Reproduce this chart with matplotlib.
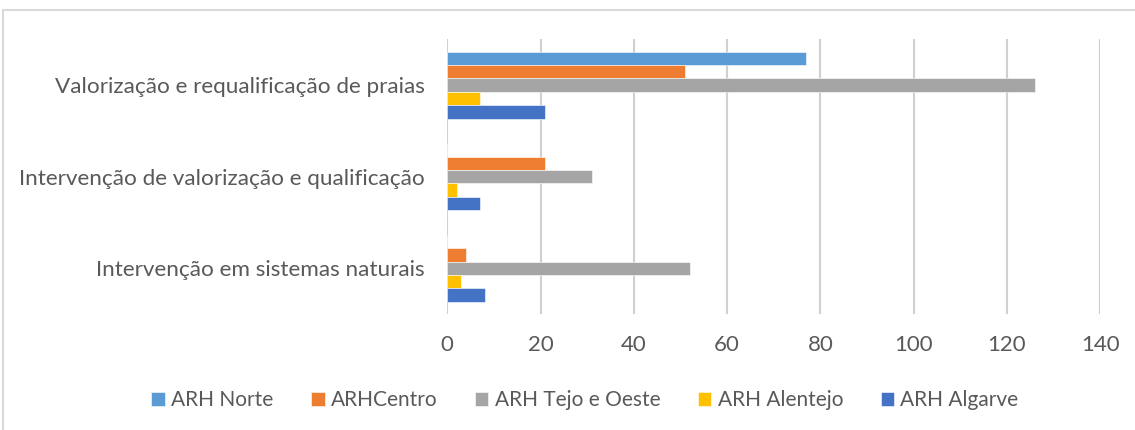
import numpy as np
import matplotlib
matplotlib.use('Agg')
import matplotlib.pyplot as plt
from matplotlib.patches import Rectangle

categories = ['Valorização e requalificação de praias',
              'Intervenção de valorização e qualificação',
              'Intervenção em sistemas naturais']
series = ['ARH Norte', 'ARHCentro', 'ARH Tejo e Oeste', 'ARH Alentejo', 'ARH Algarve']
norte = [77, 0, 0]
centro = [51, 21, 4]
tejo = [126, 31, 52]
alentejo = [7, 2, 3]
algarve = [21, 7, 8]
colors = ['#5B9BD5', '#ED7D31', '#A5A5A5', '#FFC000', '#4472C4']


def main():
    plt.rcParams['font.family'] = ['Lato', 'DejaVu Sans']
    text_color = '#595959'

    fig = plt.figure(figsize=(11.35, 4.3), dpi=100)
    ax = fig.add_axes([447.3 / 1135, 1 - 314 / 430, 653 / 1135, 274.7 / 430])

    values = [norte, centro, tejo, alentejo, algarve]
    y = np.arange(len(categories))
    group = 0.73
    h = group / len(series)
    for i, (name, vals) in enumerate(zip(series, values)):
        offs = -group / 2 + h * (i + 0.5)
        ax.barh(y + offs, vals, height=h, color=colors[i], label=name,
                edgecolor='white', linewidth=0.4, zorder=3)

    ax.set_xlim(0, 140)
    ax.set_ylim(2.5, -0.5)
    ax.set_xticks(np.arange(0, 141, 20))
    ax.set_yticks(y)
    ax.set_yticklabels(categories)
    ax.tick_params(axis='both', length=0, labelcolor=text_color)
    ax.tick_params(axis='x', pad=15, labelsize=16)
    ax.tick_params(axis='y', pad=16, labelsize=16.2)
    ax.grid(axis='x', color='#d0d0d0', linewidth=1.5, zorder=0)
    for s in ax.spines.values():
        s.set_visible(False)

    fig.legend(loc='center', bbox_to_anchor=(585 / 1135, 1 - 400 / 430), ncol=5,
               frameon=False, fontsize=15, labelcolor=text_color,
               handlelength=0.65, handleheight=0.65, handletextpad=0.3,
               columnspacing=1.8)

    fig.patches.append(Rectangle((3 / 1135, -0.1), 1.2, 1 - 10 / 430 + 0.1,
                                 transform=fig.transFigure, fill=False,
                                 edgecolor='#d9d9d9', linewidth=1.5))

    fig.savefig('out.png', dpi=100, facecolor='white')


if __name__ == "__main__":
    main()
